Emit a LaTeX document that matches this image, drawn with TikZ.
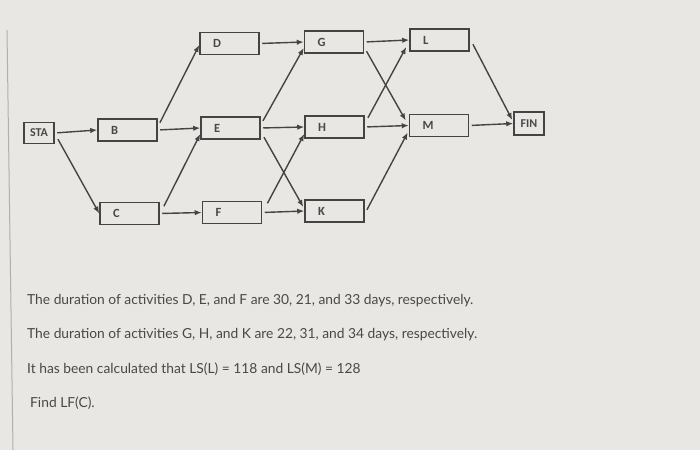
\documentclass[tikz,border=0pt]{standalone}
\usepackage{fontspec}
\setmainfont{Lato}
\newfontfamily\boxfont{Carlito}
\usetikzlibrary{arrows.meta,positioning}
\definecolor{bgc}{RGB}{233,231,227}
\definecolor{linec}{RGB}{68,68,68}
\definecolor{txtc}{RGB}{72,72,72}
\definecolor{framec}{RGB}{175,175,172}
\tikzset{
  actbox/.style={draw=linec, line width=1.5pt, minimum height=22pt, text width=33pt,
    inner xsep=13pt, inner ysep=0pt, align=left, font=\boxfont\bfseries\fontsize{12.5}{13}\selectfont, text=txtc},
  endbox/.style={draw=linec, line width=1.5pt, minimum height=21pt, minimum width=30pt,
    inner sep=0pt, font=\boxfont\bfseries\fontsize{12}{13}\selectfont, text=txtc},
  arr/.style={draw=linec, line width=1.4pt, shorten <=2.5pt, -{Latex[length=7pt,width=5.5pt]}},
  qtext/.style={anchor=base west, inner sep=0pt, text=txtc, font=\fontsize{13.8}{17}\selectfont}
}
\begin{document}
\begin{tikzpicture}[x=1pt,y=-1pt]
\fill[bgc] (0,0) rectangle (700,450);
\useasboundingbox (0,0) rectangle (700,450);
\coordinate (frtop) at (7,30);
\coordinate (frbot) at (13,450);
\draw[framec, line width=1pt] (frtop) -- (frbot);
% nodes
\node[endbox] (STA) at (39,133) {STA};
\node[actbox] (B) at (127.5,130) {B};
\node[actbox] (C) at (129.5,213.5) {C};
\node[actbox] (D) at (229.5,43.5) {D};
\node[actbox] (E) at (230.5,128) {E};
\node[actbox] (F) at (232,212.5) {F};
\node[actbox] (G) at (334,42) {G};
\node[actbox] (H) at (334.5,127) {H};
\node[actbox] (K) at (334.5,211) {K};
\node[actbox] (L) at (439.5,40) {L};
\node[actbox] (M) at (439,125.5) {M};
\node[endbox, minimum height=23pt] (FIN) at (529,123.5) {FIN};
% connectors
\draw[arr] (STA.east) -- (B.west);
\draw[arr] ([shift={(2,4)}]STA.east) -- (C.west);
\draw[arr] ([shift={(1,-5)}]B.east) -- ([shift={(0,1.5)}]D.west);
\draw[arr] (B.east) -- (E.west);
\draw[arr] ([shift={(3,-5)}]C.east) -- ([shift={(0,6)}]E.west);
\draw[arr] (C.east) -- (F.west);
\draw[arr] (D.east) -- (G.west);
\draw[arr] ([shift={(1,-5)}]E.east) -- ([shift={(0,6)}]G.west);
\draw[arr] (E.east) -- (H.west);
\draw[arr] ([shift={(2,7)}]E.east) -- ([shift={(-1,-4)}]K.west);
\draw[arr] ([shift={(4,-7)}]F.east) -- ([shift={(0,7)}]H.west);
\draw[arr] (F.east) -- (K.west);
\draw[arr] (G.east) -- (L.west);
\draw[arr] ([shift={(1,7)}]G.east) -- ([shift={(-3,-5)}]M.west);
\draw[arr] ([shift={(2,-7)}]H.east) -- ([shift={(-3,7)}]L.west);
\draw[arr] (H.east) -- (M.west);
\draw[arr] ([shift={(1,1)}]K.east) -- ([shift={(-1,7)}]M.west);
\draw[arr] ([shift={(2,2)}]L.east) -- ([shift={(-1,-3.5)}]FIN.west);
\draw[arr] (M.east) -- (FIN.west);
% text
\node[qtext] (t1) at (27,304) {The duration of activities D, E, and F are 30, 21, and 33 days, respectively.};
\node[qtext] (t2) at (27,338) {The duration of activities G, H, and K are 22, 31, and 34 days, respectively.};
\node[qtext] (t3) at (27,373) {It has been calculated that LS(L) = 118 and LS(M) = 128};
\node[qtext] (t4) at (30,407) {Find LF(C).};
\end{tikzpicture}
\end{document}
